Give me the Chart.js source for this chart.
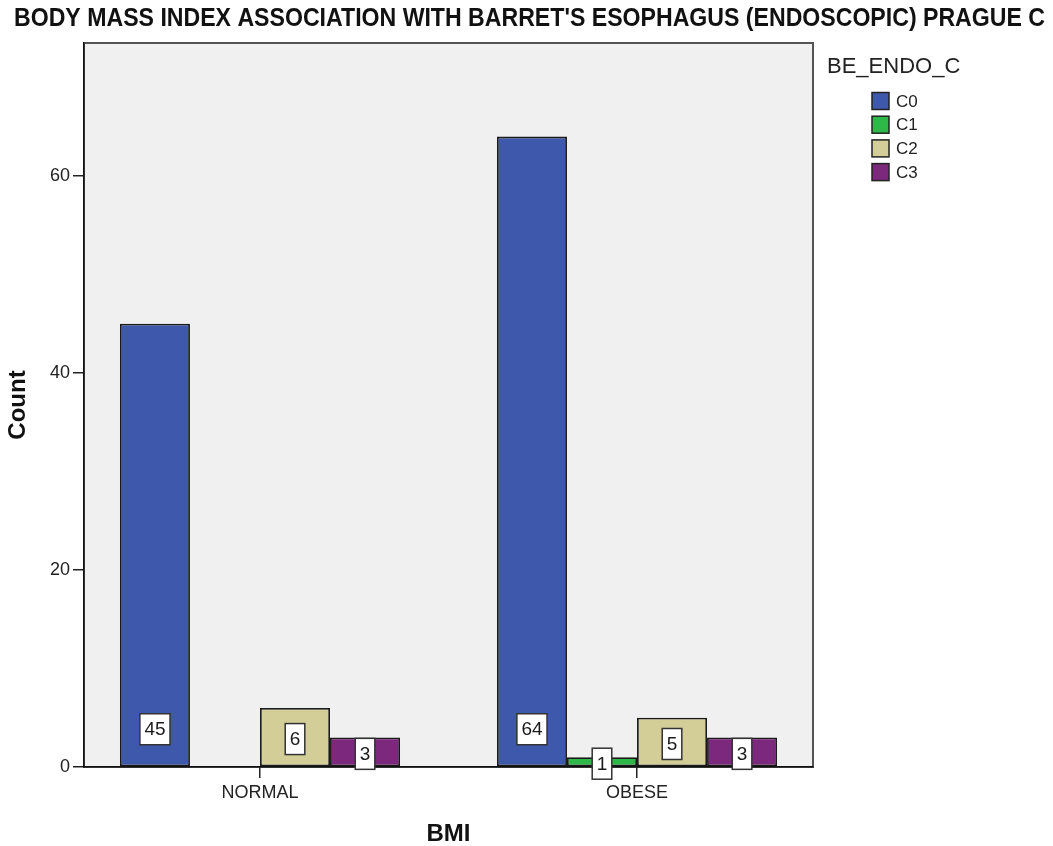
<!DOCTYPE html>
<html>
<head>
<meta charset="utf-8">
<title>BMI and Barrett's Esophagus Prague C</title>
<script src="https://cdn.jsdelivr.net/npm/chart.js@4.4.1/dist/chart.umd.min.js"></script>
<style>
  html, body { margin: 0; padding: 0; background: #ffffff; }
  canvas { display: block; }
</style>
</head>
<body>
<canvas id="chart" width="1053" height="846"></canvas>
<script>
// BMI groups on the x axis
const categories = ['NORMAL', 'OBESE'];
// Prague C grades (legend entries)
const seriesNames = ['C0', 'C1', 'C2', 'C3'];
// Patient counts per grade, one value per BMI group
const countC0 = [45, 64];
const countC1 = [0, 1];
const countC2 = [6, 5];
const countC3 = [3, 3];
// Y axis tick values
const yTicks = [0, 20, 40, 60];

const seriesValues = [countC0, countC1, countC2, countC3];
const seriesColors = ['#3e58ac', '#2eb848', '#d3ce97', '#7c287d'];

const chartTitle = "BODY MASS INDEX ASSOCIATION WITH BARRET'S ESOPHAGUS (ENDOSCOPIC) PRAGUE C";
const legendTitle = 'BE_ENDO_C';

const FONT = '"Liberation Sans", Arial, sans-serif';

// White canvas, grey plot panel and frame
const panelPlugin = {
  id: 'panel',
  beforeDraw(chart) {
    const { ctx, chartArea: a } = chart;
    ctx.save();
    ctx.fillStyle = '#ffffff';
    ctx.fillRect(0, 0, chart.width, chart.height);
    ctx.fillStyle = '#f0f0f0';
    ctx.fillRect(a.left, a.top, a.right - a.left, a.bottom - a.top);
    ctx.strokeStyle = '#555555';
    ctx.lineWidth = 2;
    ctx.strokeRect(a.left, a.top, a.right - a.left, a.bottom - a.top);
    ctx.restore();
  }
};

// Heading (condensed bold) and legend drawn beside the plot
const headingPlugin = {
  id: 'heading',
  afterDraw(chart) {
    const { ctx, chartArea: a } = chart;
    ctx.save();
    ctx.fillStyle = '#111111';
    ctx.textAlign = 'center';
    ctx.textBaseline = 'middle';
    ctx.font = 'bold 25px "Liberation Sans Narrow", "Arial Narrow", ' + FONT;
    const tw = ctx.measureText(chartTitle).width;
    const squeeze = Math.min(1, 1031 / tw);
    ctx.translate(chart.width / 2 + 3, 19);
    ctx.scale(squeeze, 1);
    ctx.fillText(chartTitle, 0, 0);
    ctx.restore();

    // legend
    ctx.save();
    const lx = a.right + 14;
    ctx.textAlign = 'left';
    ctx.textBaseline = 'middle';
    ctx.font = '22px ' + FONT;
    ctx.fillStyle = '#222222';
    ctx.fillText(legendTitle, lx, 67);
    ctx.font = '17px ' + FONT;
    chart.data.datasets.forEach((ds, k) => {
      const cy = 101 + k * 23.7;
      ctx.fillStyle = ds.backgroundColor;
      ctx.fillRect(lx + 45, cy - 8.5, 17, 17);
      ctx.strokeStyle = '#222222';
      ctx.lineWidth = 1.5;
      ctx.strokeRect(lx + 45, cy - 8.5, 17, 17);
      ctx.fillStyle = '#222222';
      ctx.fillText(ds.label, lx + 69, cy + 1);
    });
    ctx.restore();
  }
};

// Boxed value labels inside the bars
const valueBoxPlugin = {
  id: 'valueBoxes',
  afterDatasetsDraw(chart) {
    const { ctx } = chart;
    ctx.save();
    ctx.font = '19px ' + FONT;
    ctx.textAlign = 'center';
    ctx.textBaseline = 'middle';
    chart.data.datasets.forEach((ds, k) => {
      const meta = chart.getDatasetMeta(k);
      meta.data.forEach((bar, i) => {
        const v = ds.data[i].y;
        if (!v) return;
        const h = bar.base - bar.y;
        const cy = bar.base - Math.min(h / 2 - 2, 37);
        const txt = String(v);
        const w = ctx.measureText(txt).width + 9;
        const bh = 31;
        ctx.fillStyle = '#ffffff';
        ctx.fillRect(bar.x - w / 2, cy - bh / 2, w, bh);
        ctx.strokeStyle = '#333333';
        ctx.lineWidth = 1.5;
        ctx.strokeRect(bar.x - w / 2, cy - bh / 2, w, bh);
        ctx.fillStyle = '#1a1a1a';
        ctx.fillText(txt, bar.x, cy + 1);
      });
    });
    ctx.restore();
  }
};

const datasets = seriesNames.map((name, k) => ({
  label: name,
  data: seriesValues[k].map((v, i) => ({ x: i, y: v })),
  backgroundColor: seriesColors[k],
  borderColor: '#1a1a1a',
  borderWidth: 1.8,
  borderSkipped: false
}));

new Chart(document.getElementById('chart'), {
  type: 'bar',
  data: { datasets },
  plugins: [panelPlugin, valueBoxPlugin, headingPlugin],
  options: {
    responsive: false,
    animation: false,
    devicePixelRatio: 1,
    categoryPercentage: 0.743,
    barPercentage: 1,
    layout: { padding: { left: 0, right: 240, top: 43, bottom: 0 } },
    plugins: {
      legend: { display: false },
      tooltip: { enabled: false },
      title: { display: false }
    },
    scales: {
      x: {
        type: 'linear',
        min: -0.4668,
        max: 1.4668,
        offset: false,
        afterBuildTicks: (s) => { s.ticks = categories.map((c, i) => ({ value: i })); },
        afterFit: (s) => { s.height = 79; },
        ticks: {
          callback: (v) => categories[v] ?? '',
          font: { family: FONT, size: 18 },
          color: '#222222',
          padding: 4,
          autoSkip: false,
          maxRotation: 0
        },
        grid: { drawOnChartArea: false, drawTicks: true, tickLength: 11, color: '#222222', lineWidth: 1.5, offset: false },
        border: { display: true, color: '#111111', width: 1.5 },
        title: {
          display: true,
          text: 'BMI',
          color: '#111111',
          font: { family: FONT, size: 24, weight: 'bold', lineHeight: 1 },
          padding: { top: 0, bottom: 0 }
        }
      },
      y: {
        min: 0,
        max: 73.5,
        afterBuildTicks: (s) => { s.ticks = yTicks.map((v) => ({ value: v })); },
        afterFit: (s) => { s.width = 84; },
        ticks: {
          font: { family: FONT, size: 18 },
          color: '#222222',
          padding: 3
        },
        grid: { drawOnChartArea: false, drawTicks: true, tickLength: 11, color: '#222222', lineWidth: 1.5 },
        border: { display: true, color: '#111111', width: 1.5 },
        title: {
          display: true,
          text: 'Count',
          color: '#111111',
          font: { family: FONT, size: 24, weight: 'bold', lineHeight: 1 },
          padding: { top: 6, bottom: 0 }
        }
      }
    }
  }
});
</script>
</body>
</html>
